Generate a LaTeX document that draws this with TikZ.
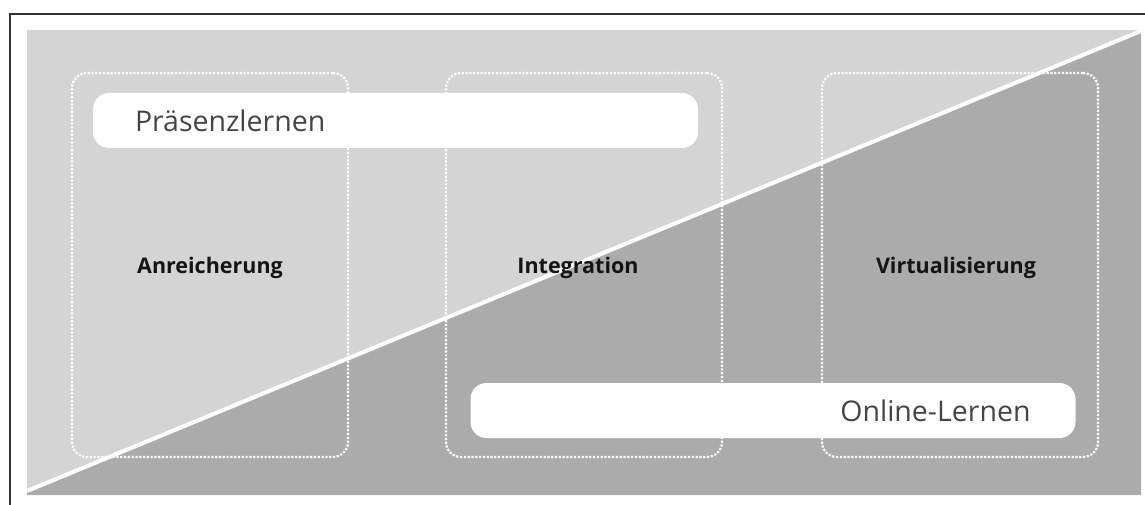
\documentclass[tikz,border=0pt]{standalone}
\usepackage{fontspec}
\setmainfont{Open Sans}
\begin{document}
\begin{tikzpicture}[x=1pt,y=-1pt,
  phase/.style={draw=white, line width=2.2pt, dash pattern=on 2.2pt off 1.6pt,
    rounded corners=15pt, inner sep=0pt, minimum width=276pt, minimum height=384pt},
  mode/.style={fill=white, rounded corners=16pt, inner sep=0pt,
    minimum width=605pt, minimum height=55pt},
  modetext/.style={text=black!73, font=\fontsize{28.5}{32}\selectfont, inner sep=0pt},
  phasetext/.style={text=black!92, font=\bfseries\fontsize{21.5}{24}\selectfont, inner sep=0pt}]
\useasboundingbox (0,0) rectangle (1145,505);
% outer frame (top and left edges)
\draw[black!80, line width=1.3pt] (10,505) -- (10,14) -- (1145,14);
% background split into two halves
\fill[black!17] (27,30) rectangle (1141,495);
\fill[black!33] (27,491) -- (1141,31) -- (1141,495) -- (27,495) -- cycle;
\draw[white, line width=4pt] (27,491) -- (1141,31);
% three phases
\node[phase] (p1) at (210,265) {};
\node[phase] (p2) at (584,265) {};
\node[phase] (p3) at (960,265) {};
\node[phasetext] (t1) at (210,268) {Anreicherung};
\node[phasetext] (t2) at (578,268) {Integration};
\node[phasetext] (t3) at (956,268) {Virtualisierung};
% learning modes
\node[mode] (m1) at (395.5,120.5) {};
\node[mode] (m2) at (773,410.5) {};
\node[modetext, anchor=west] (l1) at ([xshift=42pt]m1.west) {Präsenzlernen};
\node[modetext, anchor=east] (l2) at ([xshift=-45pt]m2.east) {Online-Lernen};
\end{tikzpicture}
\end{document}
